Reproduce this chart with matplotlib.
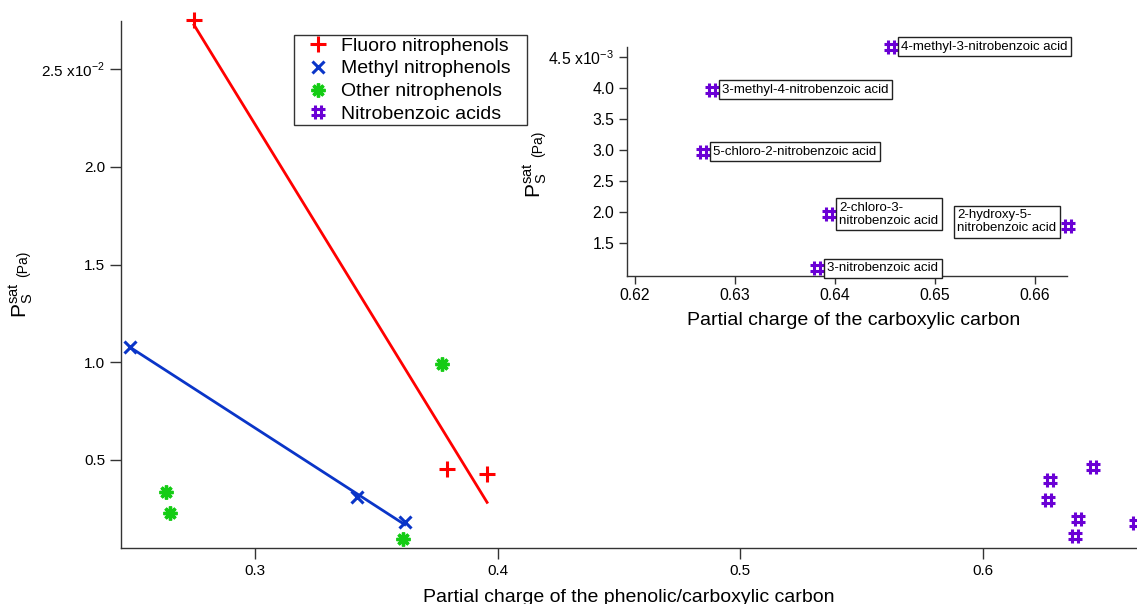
import matplotlib
matplotlib.use('Agg')
import matplotlib.pyplot as plt
import numpy as np
from matplotlib.path import Path
from matplotlib.patches import Rectangle
from matplotlib.transforms import IdentityTransform

plt.rcParams['font.family'] = ['Liberation Sans', 'DejaVu Sans']

# ---------------- data ----------------
fluoro_x = [0.2749, 0.3790, 0.3957]
fluoro_y = [2.75e-2, 0.454e-2, 0.427e-2]

methyl_x = [0.2485, 0.3419, 0.3618]
methyl_y = [1.08e-2, 0.312e-2, 0.1825e-2]

other_x = [0.2633, 0.2652, 0.3611, 0.3773]
other_y = [0.338e-2, 0.227e-2, 0.0955e-2, 0.991e-2]

nba_names = ["4-methyl-3-nitrobenzoic acid", "3-methyl-4-nitrobenzoic acid",
             "5-chloro-2-nitrobenzoic acid", "2-chloro-3-\nnitrobenzoic acid",
             "3-nitrobenzoic acid", "2-hydroxy-5-\nnitrobenzoic acid"]
nba_x = [0.6456, 0.6277, 0.6268, 0.6394, 0.6382, 0.6633]
nba_y = [4.66e-3, 3.97e-3, 2.97e-3, 1.97e-3, 1.10e-3, 1.78e-3]

series_labels = ["Fluoro nitrophenols", "Methyl nitrophenols",
                 "Other nitrophenols", "Nitrobenzoic acids"]

main_xticks = [0.3, 0.4, 0.5, 0.6]
main_xticklabels = ["0.3", "0.4", "0.5", "0.6"]
main_yticks = [0.5e-2, 1.0e-2, 1.5e-2, 2.0e-2, 2.5e-2]
main_yticklabels = ["0.5", "1.0", "1.5", "2.0", r"2.5 x10$^{\mathregular{-2}}$"]

inset_xticks = [0.62, 0.63, 0.64, 0.65, 0.66]
inset_xticklabels = ["0.62", "0.63", "0.64", "0.65", "0.66"]
inset_yticks = [1.5e-3, 2.0e-3, 2.5e-3, 3.0e-3, 3.5e-3, 4.0e-3, 4.5e-3]
inset_yticklabels = ["1.5", "2.0", "2.5", "3.0", "3.5", "4.0", r"4.5 x10$^{\mathregular{-3}}$"]

# ---------------- style ----------------
RED = '#FF0000'
BLUE = '#0A35C8'
GREEN = '#14CC14'
PURPLE = '#6A00D5'
SPINE = '#333333'

HASH = Path([(-0.4, -1), (-0.4, 1), (0.4, -1), (0.4, 1),
             (-1, -0.4), (1, -0.4), (-1, 0.4), (1, 0.4)],
            [Path.MOVETO, Path.LINETO] * 4)
ASTER = (8, 2, 0)

W, H = 1137, 604
fig = plt.figure(figsize=(W / 100, H / 100), dpi=100)

# ---------------- main axes ----------------
ax = fig.add_axes([121 / W, 1 - 547.7 / H, (W - 121) / W, (547.7 - 21) / H])

h1, = ax.plot(fluoro_x, fluoro_y, ls='none', marker='+', ms=11, mew=2.2,
              color=RED, clip_on=False, zorder=3)
pf = np.polyfit(fluoro_x, fluoro_y, 1)
xx = np.array([min(fluoro_x), max(fluoro_x)])
ax.plot(xx, np.polyval(pf, xx), color=RED, lw=2, zorder=2)

h2, = ax.plot(methyl_x, methyl_y, ls='none', marker='x', ms=9, mew=2.2,
              color=BLUE, clip_on=False, zorder=3)
pm = np.polyfit(methyl_x, methyl_y, 1)
xx = np.array([min(methyl_x), max(methyl_x)])
ax.plot(xx, np.polyval(pm, xx), color=BLUE, lw=2, zorder=2)

h3, = ax.plot(other_x, other_y, ls='none', marker=ASTER, ms=10, mew=2.4,
              color=GREEN, clip_on=False, zorder=3)

h4, = ax.plot(nba_x, nba_y, ls='none', marker=HASH, ms=10, mew=2.2,
              mfc='none', color=PURPLE, clip_on=False, zorder=3)

ax.set_xlim(0.2448, 0.6636)
ax.set_ylim(0.051e-2, 2.747e-2)
ax.set_xticks(main_xticks)
ax.set_xticklabels(main_xticklabels)
ax.set_yticks(main_yticks)
ax.set_yticklabels(main_yticklabels)
for s in ['top', 'right']:
    ax.spines[s].set_visible(False)
for s in ['left', 'bottom']:
    ax.spines[s].set_color(SPINE)
    ax.spines[s].set_linewidth(1)
ax.tick_params(direction='out', length=8, width=1, color=SPINE,
               labelsize=11, pad=3.5)
ax.set_xlabel("Partial charge of the phenolic/carboxylic carbon",
              fontsize=14, va='baseline')
ax.xaxis.set_label_coords(0.5, -0.1025)

leg = ax.legend([h1, h2, h3, h4], series_labels, loc='upper left',
                bbox_to_anchor=((294 + 12) / W, 1 - 36 / H),
                bbox_transform=fig.transFigure, frameon=False,
                borderaxespad=0, borderpad=0.05, labelspacing=0.27,
                handlelength=1.13, handletextpad=0.62, fontsize=14)

# ---------------- inset axes ----------------
ax2 = fig.add_axes([626.7 / W, 1 - 276 / H, 440 / W, 229.3 / H])
ax2.set_facecolor('none')
ax2.plot(nba_x, nba_y, ls='none', marker=HASH, ms=10, mew=2.2,
         mfc='none', color=PURPLE, clip_on=False, zorder=3)
for name, x, y in zip(nba_names, nba_x, nba_y):
    if name.startswith("2-hydroxy"):
        off, ha = (-8.2, 3), 'right'
    else:
        off, ha = (7.5, 0), 'left'
    ax2.annotate(name, (x, y), xytext=off, textcoords='offset points',
                 ha=ha, va='center', fontsize=9.5, linespacing=1.12,
                 multialignment='left', annotation_clip=False,
                 bbox=dict(boxstyle='square,pad=0.26', fc='white',
                           ec='#222222', lw=1))
ax2.set_xlim(0.6192, 0.6632)
ax2.set_ylim(0.974e-3, 4.66e-3)
ax2.set_xticks(inset_xticks)
ax2.set_xticklabels(inset_xticklabels)
ax2.set_yticks(inset_yticks)
ax2.set_yticklabels(inset_yticklabels)
for s in ['top', 'right']:
    ax2.spines[s].set_visible(False)
for s in ['left', 'bottom']:
    ax2.spines[s].set_color(SPINE)
    ax2.spines[s].set_linewidth(1)
ax2.tick_params(direction='out', length=5.5, width=1, color=SPINE,
                labelsize=11.3, pad=3.5)
ax2.set_xlabel("Partial charge of the carboxylic carbon", fontsize=14,
               va='baseline')
ax2.xaxis.set_label_coords(0.515, -0.2137)

# ---------------- composite y labels ----------------
fig.canvas.draw()
renderer = fig.canvas.get_renderer()
for bx, by in [(26, 318), (541, 198)]:
    t1 = fig.text(bx, H - by, r'$\mathregular{P_{S}^{sat}}$', fontsize=15,
                  rotation=90, rotation_mode='anchor', ha='left',
                  va='baseline', transform=IdentityTransform())
    fig.canvas.draw()
    bb = t1.get_window_extent(renderer)
    fig.text(bx + 1.5, bb.y1 + 5, '(Pa)', fontsize=10, rotation=90,
             rotation_mode='anchor', ha='left', va='baseline',
             transform=IdentityTransform())

# legend frame drawn with wider horizontal padding
fig.canvas.draw()
lb = leg.get_window_extent(renderer)
padx = 12
fig.patches.append(Rectangle((lb.x0 - padx, lb.y0 - 1), lb.width + 2 * padx + 3,
                             lb.height + 2, transform=IdentityTransform(),
                             fill=False, ec=SPINE, lw=1, figure=fig))

fig.savefig('out.png', dpi=100)
